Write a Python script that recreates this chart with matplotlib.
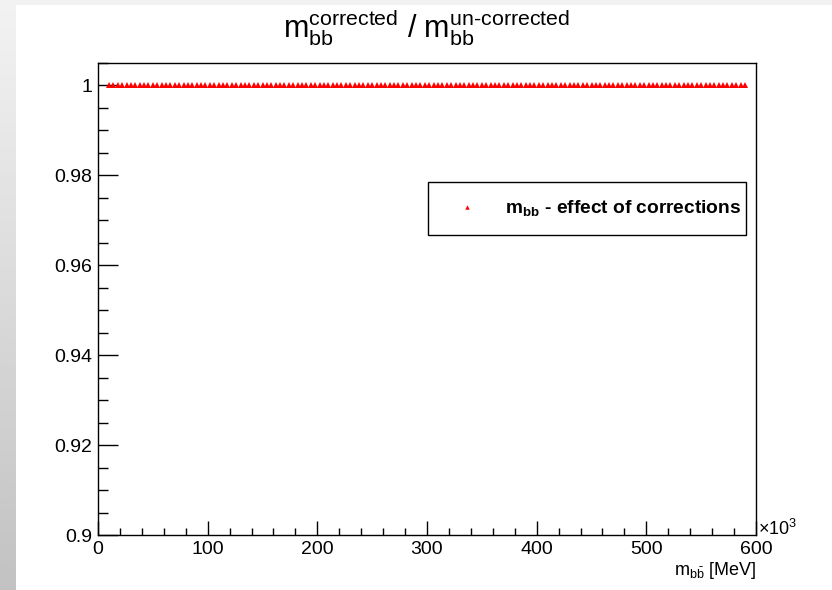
import matplotlib

matplotlib.use("Agg")
import matplotlib.pyplot as plt
import numpy as np
from matplotlib.patches import Rectangle
from matplotlib.ticker import FuncFormatter, MultipleLocator

OUT = "out.png"

# m_bb bin centres (x10^3 MeV) and the corrected / un-corrected ratio per bin
BIN_START, BIN_STOP, BIN_STEP = 10, 590, 4
MBB_CENTERS = np.arange(BIN_START, BIN_STOP + BIN_STEP, BIN_STEP)
RATIO_LEVEL = 1.0  # every bin sits exactly on 1 in the picture
RATIO = np.full(len(MBB_CENTERS), RATIO_LEVEL)

X_RANGE = (0, 600)
Y_RANGE = (0.9, 1.005)
Y_MAJOR, Y_MINOR = 0.02, 0.005
X_MAJOR, X_MINOR = 100, 20

TITLE = (
    r"$\mathrm{m}_{\mathrm{bb}}^{\mathrm{corrected}}$ / "
    r"$\mathrm{m}_{\mathrm{bb}}^{\text{un-corrected}}$"
)
XLABEL = r"$\mathrm{m}_{\mathrm{b\bar{b}}}$ [MeV]"
LEGEND_LABEL = r"$\mathbf{m}_{\mathbf{bb}}$ - effect of corrections"

W, H = 832, 590  # pixels
plt.rcParams.update(
    {
        "font.family": ["Liberation Sans", "DejaVu Sans"],
        "mathtext.fontset": "custom",
        "mathtext.rm": "Liberation Sans",
        "mathtext.it": "Liberation Sans:italic",
        "mathtext.bf": "Liberation Sans:bold",
    }
)


def px(x, y):
    """pixel position (from top-left) -> figure fraction"""
    return x / W, 1 - y / H


def main():
    fig = plt.figure(figsize=(W / 100, H / 100), dpi=100, facecolor="#f1f1f1")

    # slide-like backdrop: grey strip on the left, white canvas for the plot
    strip = fig.add_axes([0, 0, 16 / W, 1], zorder=-2)
    grad = np.linspace(0.95, 0.76, 200)[:, None]
    strip.imshow(grad, cmap="gray", vmin=0, vmax=1, aspect="auto")
    strip.axis("off")
    fig.patches.append(
        Rectangle(
            (16 / W, 0), 1 - 16 / W, 1 - 5 / H,
            transform=fig.transFigure, facecolor="white", edgecolor="none", zorder=-1,
        )
    )

    l, t = px(98, 63)
    r, b = px(756, 535)
    ax = fig.add_axes([l, b, r - l, t - b], zorder=1)
    ax.set_facecolor("white")

    ax.plot(
        MBB_CENTERS, RATIO, ls="none", marker="^", ms=4, color="red",
        mec="red", mew=0, label=LEGEND_LABEL, zorder=3,
    )

    ax.set_xlim(*X_RANGE)
    ax.set_ylim(*Y_RANGE)
    ax.xaxis.set_major_locator(MultipleLocator(X_MAJOR))
    ax.xaxis.set_minor_locator(MultipleLocator(X_MINOR))
    ax.yaxis.set_major_locator(MultipleLocator(Y_MAJOR))
    ax.yaxis.set_minor_locator(MultipleLocator(Y_MINOR))
    ax.yaxis.set_major_formatter(FuncFormatter(lambda v, _: f"{v:g}"))
    ax.xaxis.set_major_formatter(FuncFormatter(lambda v, _: f"{v:g}"))

    ax.tick_params(axis="both", which="both", direction="in", color="black", width=1,
                   top=False, right=False, labelsize=14)
    ax.tick_params(axis="x", which="major", length=10.2, pad=4)
    ax.tick_params(axis="x", which="minor", length=5.1)
    ax.tick_params(axis="y", which="major", length=14.4, pad=4)
    ax.tick_params(axis="y", which="minor", length=7.2)
    for s in ax.spines.values():
        s.set_linewidth(1)
        s.set_color("black")
    ax.set_axisbelow(False)

    fs = 13.8
    x0, y1 = 428, 182
    x1, y0 = 746, 240
    bl, bt = px(x0, y1)
    br, bb = px(x1, y0)
    ax.legend(
        loc="upper left",
        bbox_to_anchor=(bl, bb, br - bl, bt - bb),
        bbox_transform=fig.transFigure,
        mode="expand",
        borderaxespad=0,
        borderpad=0.86,
        handlelength=2.3,
        handletextpad=0.85,
        numpoints=1,
        markerscale=0.8,
        fancybox=False,
        framealpha=1,
        edgecolor="black",
        prop={"size": fs, "weight": "bold"},
    ).get_frame().set_linewidth(1)

    fig.text(*px(427, 37), TITLE, ha="center", va="baseline", fontsize=22)
    fig.text(*px(756, 575), XLABEL, ha="right", va="baseline", fontsize=13)
    fig.text(*px(758, 535), r"$\times\mathrm{10^{3}}$", ha="left", va="baseline",
             fontsize=13)

    fig.savefig(OUT, dpi=100, facecolor=fig.get_facecolor())


if __name__ == "__main__":
    main()
